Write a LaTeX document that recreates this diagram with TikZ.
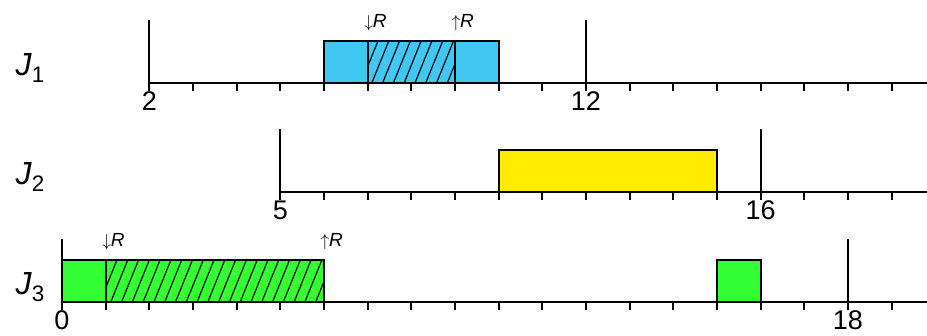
\documentclass[tikz,border=0pt]{standalone}
\usepackage{fontspec}
\setmainfont{Liberation Sans}
\usetikzlibrary{patterns.meta}
\definecolor{jobblue}{RGB}{66,198,242}
\definecolor{jobyellow}{RGB}{255,236,0}
\definecolor{jobgreen}{RGB}{51,255,51}

\begin{document}
\begin{tikzpicture}[x=43.67pt,y=1pt,line width=2.2pt,
  jobbox/.style={draw,line width=2.2pt},
  hatch/.style={pattern={Lines[angle=68,distance=10pt,line width=1.2pt]}},
  joblabel/.style={font=\fontsize{32}{36}\selectfont,inner sep=0pt},
  ticklabel/.style={font=\fontsize{27}{30}\selectfont,anchor=north,inner sep=1pt},
  rlabel/.style={font=\fontsize{19}{21}\selectfont,anchor=base west,inner sep=0pt,xshift=-4.5pt}]
\useasboundingbox (-1.42,0) rectangle (19.81,336);
% one time line per job: release, deadline
\foreach \name/\y/\rel/\dl in {1/253/2/12,2/144/5/16,3/34/0/18}{
  \draw (\rel,\y) -- (19.81,\y);
  \foreach \t in {\rel,...,19} \draw (\t,\y) -- (\t,\y-8);
  \draw (\rel,\y) -- (\rel,\y+63);
  \draw (\dl,\y) -- (\dl,\y+63);
  \node[ticklabel] (rel\name) at (\rel,\y-7) {\rel};
  \node[ticklabel] (dl\name) at (\dl,\y-7) {\dl};
  \node[joblabel] (J\name) at (-0.73,\y+15) {\textit{J}\textsubscript{\name}};
}
% J1
\draw[jobbox,fill=jobblue] (6,253) rectangle (10,295);
\draw[jobbox,hatch] (7,253) rectangle (9,295);
\node[rlabel] (lock1) at (7,308) {$\downarrow$\textit{R}};
\node[rlabel] (unlock1) at (9,308) {$\uparrow$\textit{R}};
% J2
\draw[jobbox,fill=jobyellow] (10,144) rectangle (15,186);
% J3
\draw[jobbox,fill=jobgreen] (0,34) rectangle (6,76);
\draw[jobbox,hatch] (1,34) rectangle (6,76);
\draw[jobbox,fill=jobgreen] (15,34) rectangle (16,76);
\node[rlabel] (lock3) at (1,89) {$\downarrow$\textit{R}};
\node[rlabel] (unlock3) at (6,89) {$\uparrow$\textit{R}};
\end{tikzpicture}
\end{document}
